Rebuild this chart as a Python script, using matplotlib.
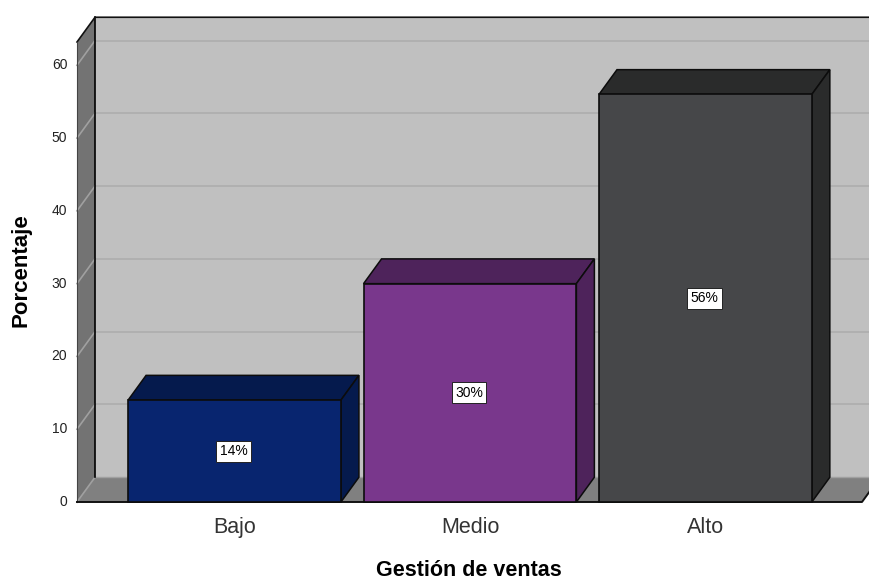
import numpy as np
import matplotlib
matplotlib.use('Agg')
import matplotlib.pyplot as plt

plt.rcParams['font.family'] = ['Liberation Sans', 'DejaVu Sans']

categories = ['Bajo', 'Medio', 'Alto']
values = [14, 30, 56]
labels = ['14%', '30%', '56%']
yticks = [0, 10, 20, 30, 40, 50, 60]

front = ['#08256F', '#79378C', '#464749']
dark = ['#051A4D', '#4E235B', '#2A2B2B']

W, H = 869, 580
fig = plt.figure(figsize=(W / 100, H / 100), dpi=100, facecolor='white')
ax = fig.add_axes([77 / W, (H - 502) / H, (862 - 77) / W, 460 / H])

x = np.arange(len(categories))
x0, x1 = -0.669, 2.665
ytop = 63.2
ax.set_xlim(x0, x1)
ax.set_ylim(0, ytop)
ax.patch.set_visible(False)
for s in ax.spines.values():
    s.set_visible(False)

# depth of the fake 3d box, in data units
dx = 0.0764
dy = 3.4
w = 0.904

# walls
ax.fill([x0 + dx, x1 + dx, x1 + dx, x0 + dx], [dy, dy, ytop + dy, ytop + dy],
        color='#C0C0C0', lw=0, clip_on=False, zorder=1)
ax.fill([x0, x0 + dx, x0 + dx, x0], [0, dy, ytop + dy, ytop],
        color='#737373', lw=0, clip_on=False, zorder=1)
ax.fill([x0, x1, x1 + dx, x0 + dx], [0, 0, dy, dy],
        color='#808080', lw=0, clip_on=False, zorder=1)

# grid
for t in yticks[1:]:
    ax.plot([x0 + dx, x1 + dx], [t + dy, t + dy], color='#B0B0B0', lw=1.4, clip_on=False, zorder=2)
for t in yticks:
    ax.plot([x0, x0 + dx], [t, t + dy], color='#A0A0A0', lw=1.2, clip_on=False, zorder=2)

# frame
ax.plot([x0 + dx, x0 + dx], [dy, ytop + dy], color='black', lw=1.2, clip_on=False, zorder=3)
ax.plot([x0, x0 + dx, x1 + dx], [ytop, ytop + dy, ytop + dy], color='#111111', lw=1.2, clip_on=False, zorder=3)
ax.plot([x0, x0], [0, ytop], color='#444444', lw=0.8, clip_on=False, zorder=3)
ax.plot([x0 + dx, x1 + dx], [dy, dy], color='#A0A0A0', lw=1, clip_on=False, zorder=2)
ax.plot([x0, x1, x1 + dx], [0, 0, dy], color='#111111', lw=1.4, clip_on=False, zorder=3)

# bars
for i in range(len(categories)):
    l = x[i] - w / 2
    r = x[i] + w / 2
    v = values[i]
    ax.fill([l, r, r + dx, l + dx], [v, v, v + dy, v + dy], facecolor=dark[i],
            edgecolor='#0C0C0C', lw=1.1, clip_on=False, zorder=4)
    ax.fill([r, r + dx, r + dx, r], [0, dy, v + dy, v], facecolor=dark[i],
            edgecolor='#0C0C0C', lw=1.1, clip_on=False, zorder=4)
    ax.bar(x[i], v, width=w, color=front[i], edgecolor='#0C0C0C', lw=1.2, clip_on=False, zorder=5)
    ax.text(x[i] - 0.004, v / 2, labels[i], ha='center', va='center', fontsize=10, color='black', zorder=6,
            bbox=dict(boxstyle='square,pad=0.25', facecolor='white', edgecolor='#222222', lw=0.7))

ax.set_xticks(x)
ax.set_xticklabels(categories, fontsize=15.5, color='#333333')
ax.set_yticks(yticks)
ax.tick_params(axis='x', length=0, pad=11)
ax.tick_params(axis='y', length=0, pad=7, labelsize=10)
for t in ax.get_yticklabels():
    t.set_color('#222222')
    t.set_verticalalignment('center')

fig.text(469 / W, 1 - 571 / H, 'Gestión de ventas', ha='center', va='center', fontsize=15.5, fontweight='bold')
fig.text(21 / W, 1 - 270 / H, 'Porcentaje', ha='center', va='center', rotation=90, fontsize=16, fontweight='bold')

fig.savefig('out.png', dpi=100)
